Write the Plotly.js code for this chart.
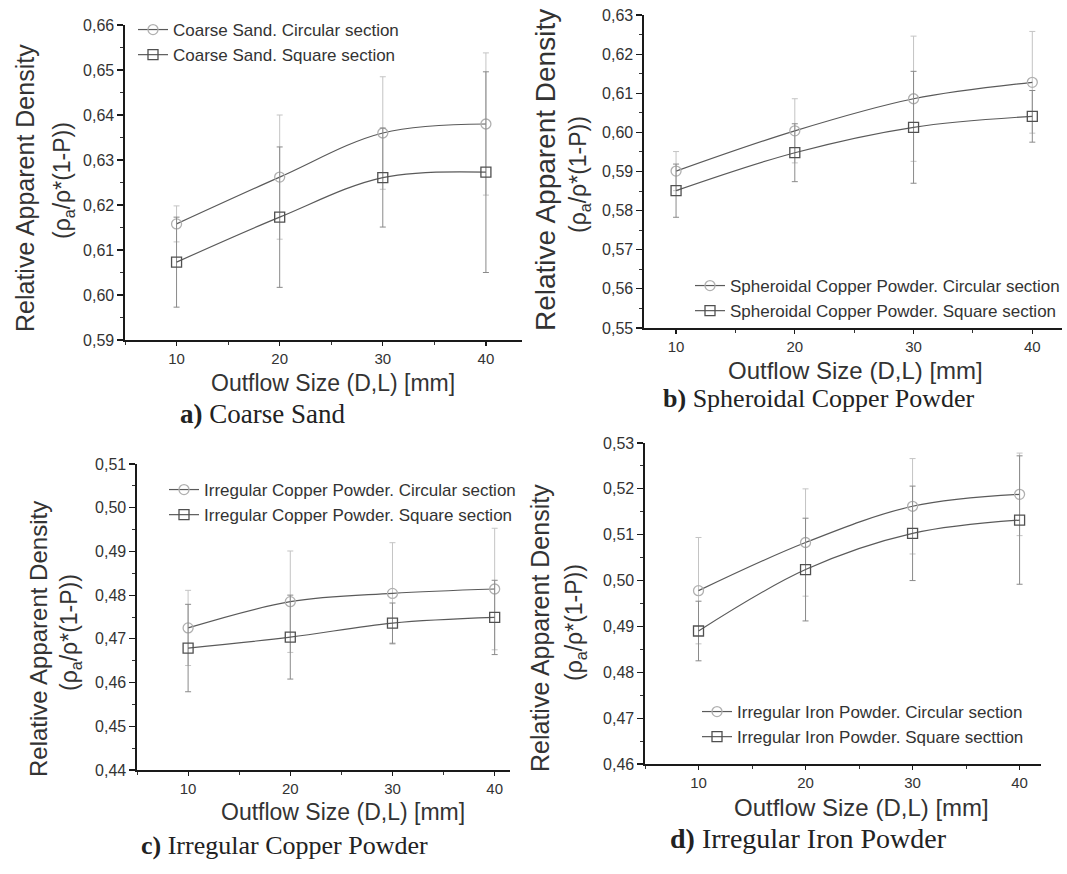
<!DOCTYPE html>
<html>
<head>
<meta charset="utf-8">
<script src="https://cdn.plot.ly/plotly-3.0.1.min.js"></script>
<style>
html,body{margin:0;padding:0;background:#fff;}
#chart{width:1067px;height:874px;}
</style>
</head>
<body>
<div id="chart"></div>
<script>
// ---- data ----
const outflowSize = [10, 20, 30, 40];

const sandCircular = [0.6158, 0.6262, 0.6360, 0.6380];
const sandCircularErr = [0.0040, 0.0138, 0.0125, 0.0158];
const sandSquare = [0.6073, 0.6173, 0.6261, 0.6273];
const sandSquareErr = [0.0100, 0.0156, 0.0110, 0.0223];

const spherCuCircular = [0.5901, 0.6004, 0.6086, 0.6128];
const spherCuCircularErr = [0.0050, 0.0082, 0.0160, 0.0130];
const spherCuSquare = [0.5851, 0.5948, 0.6013, 0.6041];
const spherCuSquareErr = [0.0068, 0.0074, 0.0143, 0.0066];

const irrCuCircular = [0.4725, 0.4785, 0.4804, 0.4814];
const irrCuCircularErr = [0.0086, 0.0116, 0.0116, 0.0139];
const irrCuSquare = [0.4679, 0.4704, 0.4736, 0.4749];
const irrCuSquareErr = [0.0100, 0.0096, 0.0046, 0.0085];

const ironCircular = [0.4978, 0.5083, 0.5162, 0.5188];
const ironCircularErr = [0.0116, 0.0117, 0.0104, 0.0090];
const ironSquare = [0.4890, 0.5024, 0.5103, 0.5132];
const ironSquareErr = [0.0065, 0.0112, 0.0103, 0.0140];

const seriesNames = [
  ["Coarse Sand. Circular section", "Coarse Sand. Square section"],
  ["Spheroidal Copper Powder. Circular section", "Spheroidal Copper Powder. Square section"],
  ["Irregular Copper Powder. Circular section", "Irregular Copper Powder. Square section"],
  ["Irregular Iron Powder. Circular section", "Irregular Iron Powder. Square secttion"]
];
const captions = ["<b>a)</b> Coarse Sand", "<b>b)</b> Spheroidal Copper Powder",
                  "<b>c)</b> Irregular Copper Powder", "<b>d)</b> Irregular Iron Powder"];
const xTitle = "Outflow Size (D,L) [mm]";
const yTitle1 = "Relative Apparent Density";
const yTitle2 = "(\u03C1<sub>a</sub>/\u03C1*(1-P))";
const footText = "variations with outflow size for both geometries";
const yRanges = [[0.59, 0.66], [0.55, 0.63], [0.44, 0.51], [0.46, 0.53]];
const xRanges = [[5, 43.5], [7.3, 42.5], [5, 41.5], [5, 42]];

// ---- layout helpers ----
const W = 1067, H = 874;
const px = v => v / W;
const py = v => 1 - v / H;

const panels = [
  {xd: [125, 522], yd: [340, 25], circ: sandCircular, circE: sandCircularErr, sq: sandSquare, sqE: sandSquareErr,
   leg: {x: 133, y: 12}, yt1: [25, 188, 25], yt2: [63, 181], xt: [333, 383, 23], cap: [262, 414, 27]},
  {xd: [644, 1062], yd: [328, 15], circ: spherCuCircular, circE: spherCuCircularErr, sq: spherCuSquare, sqE: spherCuSquareErr,
   leg: {x: 690, y: 268}, yt1: [545, 170, 28], yt2: [580, 175], xt: [855, 370, 24], cap: [819, 398, 26]},
  {xd: [137, 510], yd: [770, 464], circ: irrCuCircular, circE: irrCuCircularErr, sq: irrCuSquare, sqE: irrCuSquareErr,
   leg: {x: 164, y: 472}, yt1: [38, 639, 24], yt2: [70, 633], xt: [343, 812, 23], cap: [284, 845, 26]},
  {xd: [645, 1041], yd: [764, 443], circ: ironCircular, circE: ironCircularErr, sq: ironSquare, sqE: ironSquareErr,
   leg: {x: 697, y: 694}, yt1: [540, 628, 25], yt2: [575, 623], xt: [861, 807, 24], cap: [808, 838, 28]}
];

const sansFont = "Liberation Sans, Arial, sans-serif";
const serifFont = "Liberation Serif, Times New Roman, serif";

const traces = [];
const layout = {
  width: W, height: H,
  margin: {l: 0, r: 0, t: 0, b: 0},
  paper_bgcolor: "#ffffff", plot_bgcolor: "rgba(0,0,0,0)",
  separators: ",.",
  showlegend: true,
  annotations: []
};

panels.forEach((p, i) => {
  const n = i === 0 ? "" : String(i + 1);
  const xa = "x" + n, ya = "y" + n;
  const legName = i === 0 ? "legend" : "legend" + (i + 1);

  traces.push({
    x: outflowSize, y: p.circ, xaxis: xa, yaxis: ya, legend: legName,
    name: seriesNames[i][0], type: "scatter", mode: "lines+markers",
    line: {color: "#5a5a5a", width: 1.2, shape: "spline", smoothing: 1},
    marker: {symbol: "circle-open", size: 10, color: "#b0b0b0", line: {width: 1.3, color: "#b0b0b0"}},
    error_y: {type: "data", array: p.circE, visible: true, color: "#c4c4c4", thickness: 1, width: 3}
  });
  traces.push({
    x: outflowSize, y: p.sq, xaxis: xa, yaxis: ya, legend: legName,
    name: seriesNames[i][1], type: "scatter", mode: "lines+markers",
    line: {color: "#5a5a5a", width: 1.2, shape: "spline", smoothing: 1},
    marker: {symbol: "square-open", size: 10, color: "#505050", line: {width: 1.3, color: "#505050"}},
    error_y: {type: "data", array: p.sqE, visible: true, color: "#8a8a8a", thickness: 1, width: 3}
  });

  layout["xaxis" + n] = {
    domain: [px(p.xd[0]), px(p.xd[1])], anchor: ya, range: xRanges[i],
    showline: true, linecolor: "#1a1a1a", linewidth: 1.6,
    showgrid: false, zeroline: false,
    tickmode: "linear", tick0: 0, dtick: 10,
    ticks: "outside", ticklen: 4, tickwidth: 1.2, tickcolor: "#1a1a1a",
    minor: {dtick: 5, tick0: 0, ticks: "outside", ticklen: 3, tickwidth: 1, tickcolor: "#333"},
    tickfont: {family: sansFont, size: 15, color: "#333"}
  };
  layout["yaxis" + n] = {
    domain: [py(p.yd[0]), py(p.yd[1])], anchor: xa, range: yRanges[i],
    showline: true, linecolor: "#1a1a1a", linewidth: 1.6,
    showgrid: false, zeroline: false,
    tickmode: "linear", tick0: 0, dtick: 0.01, tickformat: ".2f",
    ticks: "outside", ticklen: 6, tickwidth: 1.2, tickcolor: "#1a1a1a",
    minor: {dtick: 0.005, tick0: 0, ticks: "outside", ticklen: 3, tickwidth: 1, tickcolor: "#333"},
    tickfont: {family: sansFont, size: 16, color: "#333"}
  };

  layout[legName] = {
    x: px(p.leg.x), y: py(p.leg.y), xanchor: "left", yanchor: "top",
    bgcolor: "rgba(0,0,0,0)", borderwidth: 0,
    font: {family: sansFont, size: 17, color: "#333"},
    itemwidth: 30, tracegroupgap: 0
  };

  layout.annotations.push(
    {xref: "paper", yref: "paper", x: px(p.yt1[0]), y: py(p.yt1[1]), text: yTitle1, textangle: -90,
     showarrow: false, xanchor: "center", yanchor: "middle",
     font: {family: sansFont, size: p.yt1[2], color: "#333"}},
    {xref: "paper", yref: "paper", x: px(p.yt2[0]), y: py(p.yt2[1]), text: yTitle2, textangle: -90,
     showarrow: false, xanchor: "center", yanchor: "middle",
     font: {family: sansFont, size: 23, color: "#333"}},
    {xref: "paper", yref: "paper", x: px(p.xt[0]), y: py(p.xt[1]), text: xTitle,
     showarrow: false, xanchor: "center", yanchor: "middle",
     font: {family: sansFont, size: p.xt[2], color: "#333"}},
    {xref: "paper", yref: "paper", x: px(p.cap[0]), y: py(p.cap[1]), text: captions[i],
     showarrow: false, xanchor: "center", yanchor: "middle",
     font: {family: serifFont, size: p.cap[2], color: "#222"}}
  );
});

layout.annotations.push({
  xref: "paper", yref: "paper", x: px(930), y: py(884),
  text: footText,
  showarrow: false, xanchor: "right", yanchor: "middle",
  font: {family: serifFont, size: 26, color: "#222"}
});

Plotly.newPlot("chart", traces, layout, {displayModeBar: false, staticPlot: true});
</script>
</body>
</html>
